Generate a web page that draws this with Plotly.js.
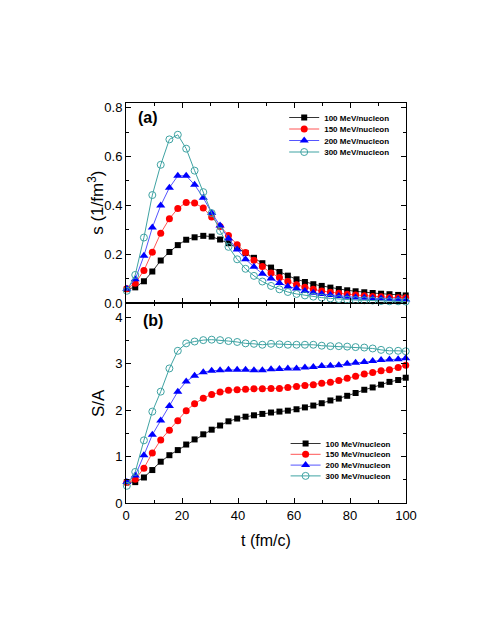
<!DOCTYPE html>
<html>
<head>
<meta charset="utf-8">
<script src="https://cdn.plot.ly/plotly-3.0.1.min.js"></script>
<style>html,body{margin:0;padding:0;background:#fff;}#chart{width:493px;height:638px;}</style>
</head>
<body>
<div id="chart"></div>
<script>
// time points (fm/c)
var t = [0.3, 3.3, 6.4, 9.4, 12.4, 15.5, 18.5, 21.5, 24.5, 27.6, 30.6, 33.6, 36.6, 39.7, 42.7, 45.7, 48.7,
         51.8, 54.8, 57.8, 60.9, 63.9, 66.9, 69.9, 73.0, 76.0, 79.0, 82.0, 85.1, 88.1, 91.1, 94.1, 97.2, 99.9];

var seriesNames = ["100 MeV/nucleon", "150 MeV/nucleon", "200 MeV/nucleon", "300 MeV/nucleon"];

// panel (a): entropy density s (1/fm^3)
var s100 = [0.057, 0.064, 0.089, 0.129, 0.174, 0.209, 0.237, 0.259, 0.269, 0.275, 0.272, 0.260, 0.245, 0.226, 0.205, 0.185, 0.163,
            0.145, 0.127, 0.112, 0.097, 0.086, 0.077, 0.070, 0.063, 0.057, 0.052, 0.048, 0.044, 0.041, 0.038, 0.036, 0.033, 0.031];
var s150 = [0.058, 0.081, 0.133, 0.208, 0.286, 0.345, 0.387, 0.412, 0.409, 0.389, 0.352, 0.313, 0.276, 0.239, 0.207, 0.175, 0.149,
            0.123, 0.104, 0.088, 0.075, 0.064, 0.056, 0.049, 0.044, 0.040, 0.036, 0.033, 0.030, 0.027, 0.026, 0.023, 0.022, 0.021];
var s200 = [0.058, 0.097, 0.193, 0.309, 0.399, 0.472, 0.521, 0.521, 0.484, 0.431, 0.369, 0.317, 0.264, 0.219, 0.179, 0.148, 0.120,
            0.100, 0.082, 0.068, 0.059, 0.049, 0.042, 0.037, 0.033, 0.029, 0.026, 0.023, 0.021, 0.019, 0.018, 0.016, 0.015, 0.014];
var s300 = [0.050, 0.115, 0.268, 0.442, 0.566, 0.670, 0.689, 0.632, 0.542, 0.454, 0.368, 0.295, 0.230, 0.179, 0.140, 0.111, 0.088,
            0.070, 0.056, 0.045, 0.037, 0.031, 0.026, 0.022, 0.019, 0.016, 0.014, 0.012, 0.011, 0.010, 0.008, 0.007, 0.007, 0.006];

// panel (b): entropy per nucleon S/A
var sa100 = [0.45, 0.45, 0.55, 0.71, 0.89, 1.03, 1.14, 1.26, 1.37, 1.48, 1.58, 1.67, 1.76, 1.82, 1.86, 1.89, 1.92,
             1.95, 1.97, 1.99, 2.02, 2.06, 2.10, 2.15, 2.21, 2.25, 2.31, 2.37, 2.44, 2.49, 2.55, 2.61, 2.65, 2.70];
var sa150 = [0.44, 0.51, 0.75, 1.08, 1.36, 1.57, 1.77, 1.99, 2.14, 2.26, 2.34, 2.39, 2.43, 2.44, 2.45, 2.46, 2.46,
             2.47, 2.47, 2.49, 2.51, 2.53, 2.55, 2.58, 2.60, 2.64, 2.69, 2.73, 2.78, 2.81, 2.85, 2.87, 2.92, 2.97];
var sa200 = [0.45, 0.59, 1.03, 1.47, 1.78, 2.09, 2.40, 2.62, 2.74, 2.82, 2.85, 2.86, 2.87, 2.87, 2.87, 2.86, 2.86,
             2.88, 2.89, 2.90, 2.90, 2.92, 2.93, 2.95, 2.96, 2.97, 3.00, 3.02, 3.04, 3.06, 3.08, 3.09, 3.10, 3.12];
var sa300 = [0.37, 0.67, 1.35, 1.97, 2.40, 2.90, 3.28, 3.44, 3.48, 3.51, 3.52, 3.51, 3.49, 3.47, 3.44, 3.43, 3.41,
             3.43, 3.42, 3.41, 3.41, 3.41, 3.41, 3.39, 3.38, 3.38, 3.37, 3.36, 3.35, 3.33, 3.30, 3.28, 3.28, 3.27];

var styles = [
  {line: '#333333', marker: {symbol: 'square', color: '#000000', size: 6}},
  {line: '#ff5555', marker: {symbol: 'circle', color: '#ff0000', size: 7}},
  {line: '#5555ff', marker: {symbol: 'triangle-up', color: '#0000ff', size: 8}},
  {line: '#3fa3a3', marker: {symbol: 'circle-open', color: '#3fa3a3', size: 7, line: {width: 1}}}
];

var topData = [s100, s150, s200, s300];
var botData = [sa100, sa150, sa200, sa300];
var traces = [];
for (var i = 0; i < 4; i++) {
  traces.push({
    x: t, y: topData[i], xaxis: 'x2', yaxis: 'y2', type: 'scatter', mode: 'lines+markers',
    name: seriesNames[i], legend: 'legend', cliponaxis: false,
    line: {color: styles[i].line, width: 1}, marker: styles[i].marker
  });
}
for (var j = 0; j < 4; j++) {
  traces.push({
    x: t, y: botData[j], xaxis: 'x', yaxis: 'y', type: 'scatter', mode: 'lines+markers',
    name: seriesNames[j], legend: 'legend2', cliponaxis: false,
    line: {color: styles[j].line, width: 1}, marker: styles[j].marker
  });
}

var fontFam = 'Arial, "Liberation Sans", sans-serif';
var axisCommon = {
  showline: true, linecolor: '#000', linewidth: 1, mirror: 'ticks',
  ticks: 'inside', ticklen: 5, tickcolor: '#000', tickwidth: 1,
  showgrid: false, zeroline: false,
  tickfont: {family: fontFam, size: 13, color: '#000'}
};
function ax(extra) { return Object.assign({}, axisCommon, extra); }

var layout = {
  width: 493, height: 638,
  paper_bgcolor: '#fff', plot_bgcolor: '#fff',
  margin: {l: 126, r: 87, t: 103, b: 135},
  font: {family: fontFam, color: '#000'},
  showlegend: true,
  xaxis: ax({anchor: 'y', range: [0, 100], dtick: 20, tick0: 0,
    minor: {dtick: 10, ticklen: 3, ticks: 'inside', tickcolor: '#000'},
    title: {text: 't (fm/c)', font: {family: fontFam, size: 16}, standoff: 13}}),
  xaxis2: ax({anchor: 'y2', matches: 'x', range: [0, 100], dtick: 20, tick0: 0, showticklabels: false,
    minor: {dtick: 10, ticklen: 3, ticks: 'inside', tickcolor: '#000'}}),
  yaxis: ax({domain: [0, 0.5], range: [0, 4.31], dtick: 1, tick0: 0,
    minor: {dtick: 0.5, ticklen: 3, ticks: 'inside', tickcolor: '#000'}}),
  yaxis2: ax({domain: [0.5, 1], range: [0, 0.819], dtick: 0.2, tick0: 0, tickformat: '.1f',
    minor: {dtick: 0.1, ticklen: 3, ticks: 'inside', tickcolor: '#000'}}),
  legend: {x: 0.565, xanchor: 'left', y: 1.0, yanchor: 'top', bgcolor: 'rgba(0,0,0,0)',
    font: {family: fontFam, size: 8, color: '#000', weight: 'bold'}, tracegroupgap: 0, itemwidth: 30},
  legend2: {x: 0.57, xanchor: 'left', y: 0.185, yanchor: 'top', bgcolor: 'rgba(0,0,0,0)',
    font: {family: fontFam, size: 8, color: '#000', weight: 'bold'}, tracegroupgap: 0, itemwidth: 30},
  annotations: [
    {text: '<b>(a)</b>', xref: 'paper', yref: 'paper', x: 0.035, y: 0.99, xanchor: 'left', yanchor: 'top',
     showarrow: false, font: {family: fontFam, size: 16, color: '#000'}},
    {text: '<b>(b)</b>', xref: 'paper', yref: 'paper', x: 0.052, y: 0.482, xanchor: 'left', yanchor: 'top',
     showarrow: false, font: {family: fontFam, size: 16, color: '#000'}},
    {text: 's (1/fm<sup>3</sup>)', xref: 'paper', yref: 'paper', x: -0.108, y: 0.75, xanchor: 'center', yanchor: 'middle',
     textangle: -90, showarrow: false, font: {family: fontFam, size: 17, color: '#000'}},
    {text: 'S/A', xref: 'paper', yref: 'paper', x: -0.1, y: 0.25, xanchor: 'center', yanchor: 'middle',
     textangle: -90, showarrow: false, font: {family: fontFam, size: 17, color: '#000'}}
  ]
};

function compressLegend(cls, step) {
  var groups = document.querySelectorAll('g.' + cls + ' g.traces');
  var first = null;
  groups.forEach(function (g, k) {
    var tr = g.getAttribute('transform') || '';
    var m = tr.match(/translate\(\s*([-\d.]+)[ ,]+([-\d.]+)\s*\)/);
    if (!m) return;
    var gx = parseFloat(m[1]), gy = parseFloat(m[2]);
    if (first === null) first = gy;
    g.setAttribute('transform', 'translate(' + gx + ',' + (first + k * step) + ')');
  });
}

Plotly.newPlot('chart', traces, layout, {displayModeBar: false, staticPlot: true}).then(function () {
  compressLegend('legend', 11.5);
  compressLegend('legend2', 10.8);
});
</script>
</body>
</html>
